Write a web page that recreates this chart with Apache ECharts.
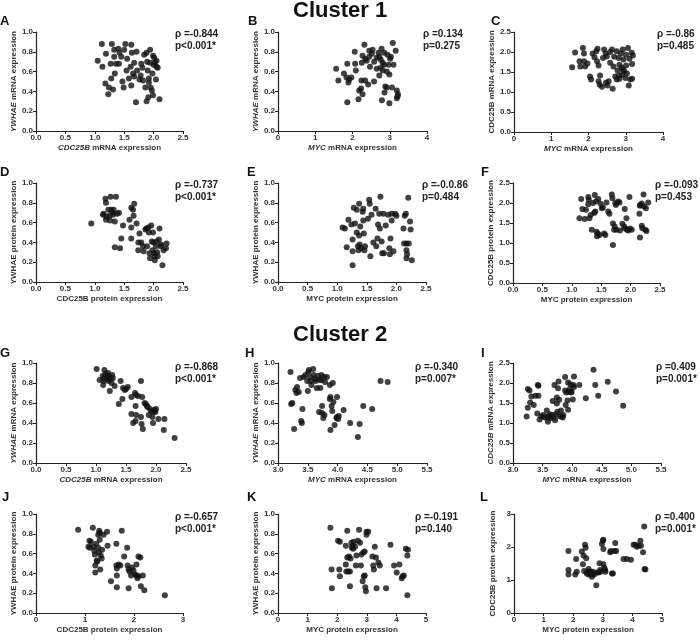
<!DOCTYPE html>
<html><head><meta charset="utf-8">
<script src="https://cdn.jsdelivr.net/npm/echarts@6/dist/echarts.min.js"></script>
<style>html,body{margin:0;padding:0;background:#fff}#c{width:700px;height:640px}</style>
</head><body><div id="c"></div>
<script>
// ---- data ----
var aX=[1.05,1.12,1.13,1.19,1.18,1.24,1.23,1.29,1.27,1.33,1.33,1.28,1.31,1.34,1.40,1.41,1.42,1.45,1.47,1.49,1.52,1.50,1.54,1.55,1.61,1.62,1.63,1.62,1.65,1.67,1.70,1.67,1.71,1.72,1.78,1.79,1.82,1.86,1.84,1.88,1.89,1.88,1.91,1.92,1.94,1.94,1.95,1.97,1.98,1.99,2.01,2.02,2.04,2.05,2.07,2.10,1.81,1.76,1.90,2.05,1.99,1.58,1.36,1.92,2.00];
var aY=[0.71,0.88,0.65,0.78,0.48,0.44,0.37,0.88,0.68,0.82,0.75,0.53,0.42,0.58,0.83,0.68,0.79,0.75,0.50,0.44,0.88,0.82,0.61,0.73,0.65,0.87,0.79,0.46,0.58,0.69,0.29,0.55,0.80,0.61,0.56,0.68,0.51,0.44,0.77,0.79,0.70,0.30,0.34,0.53,0.82,0.69,0.44,0.41,0.58,0.76,0.74,0.69,0.52,0.71,0.64,0.32,0.64,0.52,0.61,0.65,0.36,0.53,0.68,0.49,0.67];
var bX=[1.56,1.62,1.77,1.84,1.86,1.86,1.89,1.91,1.97,2.06,2.07,2.09,2.16,2.18,2.23,2.24,2.27,2.25,2.27,2.32,2.34,2.38,2.42,2.45,2.47,2.52,2.54,2.58,2.58,2.65,2.65,2.70,2.72,2.76,2.76,2.78,2.79,2.81,2.81,2.85,2.86,2.88,2.92,2.94,2.97,2.99,2.99,3.03,3.06,3.08,3.10,3.16,3.19,3.21,3.22,3.19,3.01,2.72,2.85,2.92,2.34,2.45];
var bY=[0.63,0.51,0.58,0.54,0.68,0.29,0.49,0.52,0.54,0.80,0.68,0.61,0.32,0.41,0.43,0.51,0.37,0.69,0.76,0.87,0.73,0.71,0.47,0.75,0.65,0.78,0.82,0.50,0.70,0.74,0.63,0.79,0.56,0.72,0.64,0.83,0.31,0.69,0.61,0.79,0.39,0.45,0.44,0.77,0.67,0.28,0.57,0.75,0.44,0.89,0.67,0.81,0.41,0.35,0.37,0.33,0.73,0.75,0.67,0.60,0.51,0.81];
var cX=[1.56,1.64,1.76,1.78,1.85,1.88,1.88,1.91,1.97,2.04,2.07,2.11,2.16,2.21,2.23,2.24,2.27,2.27,2.30,2.31,2.36,2.39,2.42,2.46,2.47,2.51,2.54,2.58,2.58,2.63,2.65,2.67,2.69,2.72,2.76,2.78,2.81,2.83,2.83,2.87,2.89,2.91,2.92,2.94,2.96,2.99,3.01,3.01,3.03,3.06,3.08,3.10,3.12,3.16,3.17,3.19,3.17,2.49,2.76,2.92,2.82];
var cY=[1.62,1.99,1.77,1.64,2.10,1.96,1.77,1.64,1.71,1.39,1.31,1.96,1.87,2.02,1.77,2.08,1.66,1.27,1.18,1.41,1.13,1.85,2.06,1.96,1.23,1.16,1.27,2.00,1.73,2.06,1.08,1.64,1.88,1.39,2.02,1.54,1.85,1.68,1.33,1.96,1.61,1.43,2.06,1.81,1.52,1.35,1.93,1.66,1.46,2.10,1.16,1.83,1.31,1.98,1.33,1.91,1.70,1.89,1.31,1.56,1.41];
var dX=[0.94,1.18,1.19,1.14,1.15,1.19,1.20,1.23,1.25,1.26,1.27,1.28,1.30,1.31,1.32,1.34,1.36,1.34,1.38,1.41,1.43,1.45,1.48,1.59,1.62,1.65,1.62,1.62,1.67,1.66,1.71,1.74,1.74,1.76,1.79,1.82,1.83,1.86,1.88,1.89,1.91,1.92,1.93,1.94,1.96,1.97,1.98,1.99,2.00,2.01,2.02,2.04,2.05,2.06,2.09,2.10,2.12,2.13,2.15,2.17,2.21,2.22,2.07,2.02];
var dY=[0.59,0.84,0.80,0.68,0.69,0.63,0.66,0.73,0.67,0.62,0.86,0.73,0.70,0.68,0.73,0.61,0.86,0.35,0.69,0.70,0.34,0.44,0.57,0.63,0.75,0.73,0.44,0.55,0.79,0.67,0.59,0.40,0.32,0.49,0.40,0.36,0.31,0.53,0.54,0.36,0.55,0.50,0.29,0.24,0.57,0.41,0.32,0.50,0.40,0.29,0.22,0.36,0.41,0.30,0.43,0.54,0.36,0.38,0.17,0.32,0.34,0.39,0.26,0.26];
var eX=[1.09,1.13,1.16,1.19,1.24,1.26,1.26,1.26,1.28,1.30,1.33,1.33,1.36,1.35,1.37,1.37,1.38,1.39,1.41,1.43,1.44,1.44,1.45,1.46,1.47,1.52,1.54,1.55,1.56,1.58,1.61,1.65,1.66,1.68,1.69,1.71,1.72,1.73,1.75,1.76,1.78,1.79,1.82,1.86,1.88,1.89,1.90,1.92,1.92,1.95,1.98,2.00,2.12,2.13,2.14,2.16,2.17,2.17,2.18,2.17,2.20,2.23,2.24,2.26,2.21];
var eY=[0.55,0.54,0.35,0.63,0.58,0.43,0.31,0.17,0.75,0.59,0.50,0.73,0.32,0.36,0.79,0.47,0.38,0.56,0.34,0.71,0.74,0.62,0.49,0.32,0.36,0.64,0.83,0.79,0.26,0.68,0.40,0.74,0.36,0.44,0.58,0.69,0.54,0.86,0.41,0.29,0.69,0.29,0.57,0.68,0.34,0.28,0.44,0.69,0.62,0.31,0.69,0.67,0.54,0.39,0.67,0.69,0.39,0.32,0.28,0.24,0.85,0.61,0.53,0.22,0.39];
var fX=[1.13,1.16,1.18,1.22,1.24,1.28,1.28,1.29,1.30,1.32,1.34,1.36,1.38,1.39,1.40,1.41,1.42,1.43,1.44,1.45,1.47,1.49,1.51,1.53,1.55,1.57,1.59,1.62,1.64,1.68,1.69,1.70,1.70,1.72,1.73,1.74,1.75,1.76,1.79,1.81,1.82,1.86,1.89,1.90,1.91,1.93,1.94,1.96,1.98,1.99,2.02,2.15,2.16,2.16,2.19,2.19,2.20,2.22,2.23,2.25,2.26,2.27,2.30,2.16];
var fY=[1.62,2.10,1.85,1.60,1.83,1.97,2.15,2.08,1.62,1.70,1.33,2.00,1.75,2.20,1.79,2.04,1.28,1.17,1.24,2.10,1.20,1.98,1.87,1.89,1.24,1.20,2.01,1.79,1.73,2.21,2.12,0.95,1.49,1.33,1.41,2.00,1.95,1.33,2.04,2.01,1.31,1.48,1.41,1.85,1.36,1.62,1.33,1.31,2.15,1.36,1.33,1.73,1.95,1.14,1.99,1.43,1.37,2.21,1.91,1.33,1.87,1.30,2.01,1.93];
var gX=[1.01,1.06,1.11,1.12,1.14,1.16,1.17,1.18,1.20,1.21,1.22,1.23,1.24,1.26,1.27,1.28,1.31,1.14,1.38,1.41,1.44,1.45,1.48,1.50,1.53,1.59,1.59,1.62,1.65,1.66,1.66,1.67,1.67,1.70,1.75,1.77,1.75,1.76,1.78,1.81,1.83,1.85,1.86,1.88,1.90,1.92,1.94,1.95,1.96,1.97,2.00,2.04,2.14,2.13,2.31,1.99,1.13];
var gY=[0.94,0.83,0.87,0.78,0.93,0.89,0.87,0.84,0.90,0.82,0.86,0.72,0.84,0.80,0.88,0.85,0.77,0.85,0.59,0.82,0.64,0.75,0.73,0.74,0.76,0.66,0.49,0.40,0.70,0.57,0.42,0.68,0.48,0.67,0.82,0.66,0.46,0.39,0.34,0.60,0.59,0.57,0.56,0.48,0.54,0.52,0.46,0.40,0.51,0.53,0.54,0.44,0.44,0.33,0.25,0.51,0.82];
var hX=[3.21,3.22,3.24,3.27,3.29,3.31,3.32,3.35,3.37,3.39,3.40,3.41,3.43,3.46,3.49,3.51,3.50,3.52,3.54,3.55,3.56,3.59,3.60,3.62,3.63,3.65,3.67,3.69,3.70,3.71,3.73,3.73,3.74,3.74,3.76,3.77,3.78,3.79,3.82,3.87,3.87,3.88,3.88,3.90,3.91,3.92,3.93,3.95,3.98,3.99,3.99,4.01,4.02,4.10,4.21,4.34,4.37,4.43,4.58,4.72,4.84];
var hY=[0.91,0.59,0.60,0.34,0.73,0.70,0.76,0.71,0.85,0.42,0.40,0.54,0.86,0.88,0.82,0.91,0.72,0.93,0.86,0.82,0.78,0.94,0.88,0.84,0.82,0.75,0.87,0.51,0.83,0.75,0.88,0.83,0.57,0.50,0.45,0.86,0.48,0.81,0.86,0.78,0.64,0.66,0.33,0.57,0.52,0.80,0.61,0.38,0.45,0.66,0.46,0.44,0.47,0.53,0.40,0.26,0.39,0.57,0.54,0.82,0.81];
var iX=[3.23,3.25,3.25,3.28,3.29,3.31,3.35,3.38,3.41,3.42,3.43,3.43,3.45,3.48,3.51,3.54,3.57,3.58,3.59,3.60,3.62,3.63,3.66,3.67,3.69,3.70,3.71,3.72,3.74,3.74,3.75,3.76,3.77,3.78,3.79,3.81,3.82,3.84,3.85,3.88,3.88,3.89,3.90,3.92,3.93,3.93,3.94,3.96,3.97,3.98,3.99,4.01,4.02,4.03,4.03,4.12,4.23,4.36,4.39,4.44,4.60,4.74,4.86];
var iY=[1.16,1.38,1.85,1.81,1.51,1.66,1.45,1.68,1.24,1.95,1.93,1.68,1.09,1.16,1.20,1.14,1.31,1.14,1.03,1.16,1.22,1.12,1.20,1.55,1.14,1.95,1.07,1.22,1.64,1.49,1.28,1.87,2.04,1.58,1.17,1.31,1.16,1.14,1.20,2.15,1.81,1.45,1.76,1.56,2.01,1.33,1.78,1.85,1.97,1.76,1.78,1.59,1.95,1.90,2.16,1.95,1.62,2.33,1.95,1.68,2.03,1.79,1.43];
var jX=[0.86,1.09,1.10,1.12,1.16,1.17,1.19,1.20,1.21,1.21,1.23,1.24,1.25,1.27,1.27,1.28,1.29,1.30,1.31,1.32,1.34,1.35,1.38,1.45,1.46,1.53,1.64,1.64,1.65,1.65,1.65,1.69,1.72,1.75,1.80,1.86,1.87,1.89,1.89,1.91,1.94,1.96,1.99,2.02,2.05,2.06,2.07,2.09,2.09,2.13,2.14,2.18,2.21,2.63,1.07,1.30];
var jY=[0.84,0.73,0.66,0.72,0.86,0.67,0.63,0.59,0.48,0.41,0.70,0.53,0.52,0.79,0.66,0.61,0.83,0.81,0.44,0.58,0.55,0.64,0.79,0.82,0.68,0.32,0.70,0.48,0.45,0.38,0.26,0.49,0.48,0.83,0.57,0.66,0.48,0.44,0.25,0.42,0.38,0.46,0.43,0.39,0.49,0.38,0.35,0.57,0.37,0.56,0.27,0.38,0.23,0.18,0.67,0.74];
var kX=[1.77,1.81,1.82,2.03,2.09,2.07,2.09,2.29,2.29,2.31,2.34,2.34,2.37,2.40,2.43,2.43,2.45,2.48,2.49,2.52,2.54,2.56,2.60,2.63,2.65,2.70,2.74,2.77,2.80,2.82,2.86,2.88,2.90,2.93,2.93,2.95,2.97,2.99,2.99,3.05,3.19,3.22,3.24,3.27,3.31,3.33,3.39,3.44,3.65,3.80,3.92,4.01,4.10,4.18,4.21,4.25,4.32,4.37,4.37,4.39];
var kY=[0.86,0.44,0.25,0.73,0.72,0.44,0.37,0.68,0.49,0.42,0.83,0.56,0.42,0.57,0.42,0.27,0.55,0.71,0.66,0.68,0.65,0.72,0.67,0.48,0.58,0.73,0.84,0.71,0.48,0.59,0.32,0.61,0.37,0.38,0.62,0.26,0.22,0.79,0.82,0.82,0.57,0.48,0.44,0.67,0.56,0.25,0.51,0.48,0.25,0.69,0.48,0.41,0.49,0.35,0.37,0.38,0.65,0.58,0.18,0.64];
var lX=[1.84,1.84,1.84,2.07,2.10,2.12,2.29,2.33,2.35,2.37,2.40,2.42,2.44,2.46,2.48,2.52,2.55,2.60,2.63,2.66,2.71,2.78,2.80,2.86,2.89,2.91,2.93,2.97,3.00,3.02,3.02,3.05,3.08,3.09,3.02,3.25,3.27,3.31,3.34,3.39,3.42,3.45,3.70,3.81,3.95,4.04,4.10,4.15,4.21,4.27,4.29,4.36,4.40,4.41,4.44,2.52,2.60,2.66];
var lY=[1.88,1.30,1.17,1.17,1.64,1.25,1.86,1.48,1.74,1.27,2.07,1.98,1.66,1.20,1.25,1.17,1.25,1.17,1.10,1.19,1.17,0.84,1.23,1.23,1.51,1.30,1.25,2.09,2.19,2.22,1.48,1.37,1.30,1.25,1.94,1.84,1.88,1.20,1.20,1.88,2.12,1.88,1.64,1.64,1.61,2.07,2.07,2.01,2.04,2.19,2.04,1.84,2.62,1.33,1.32,1.33,1.25,1.25];

var letters=['A','B','C','D','E','F','G','H','I','J','K','L'];
var rhoText=['ρ =-0.844','ρ =0.134','ρ =-0.86','ρ =-0.737','ρ =-0.0.86','ρ =-0.093','ρ =-0.868','ρ =-0.340','ρ =0.409','ρ =-0.657','ρ =-0.191','ρ =0.400'];
var pText=['p<0.001*','p=0.275','p=0.485','p<0.001*','p=0.484','p=0.453','p<0.001*','p=0.007*','p=0.001*','p<0.001*','p=0.140','p=0.001*'];
var xNames=['{i|CDC25B} mRNA expression','{i|MYC} mRNA expression','{i|MYC} mRNA expression','CDC25B protein expression','MYC protein expression','MYC protein expression','{i|CDC25B} mRNA expression','{i|MYC} mRNA expression','{i|MYC} mRNA expression','CDC25B protein expression','MYC protein expression','MYC protein expression'];
var yNames=['{i|YWHAE} mRNA expression','{i|YWHAE} mRNA expression','CDC25B mRNA expression','YWHAE protein expression','YWHAE protein expression','CDC25B protein expression','{i|YWHAE} mRNA expression','{i|YWHAE} mRNA expression','{i|CDC25B} mRNA expression','YWHAE protein expression','YWHAE protein expression','CDC25B protein expression'];
var xRanges=[[0,2.5,0.5],[0,4,1],[0,4,1],[0,2.5,0.5],[0,2.5,0.5],[0,2.5,0.5],[0,2.5,0.5],[3,5.5,0.5],[3,5.5,0.5],[0,3,1],[0,5,1],[0,5,1]];
var yRanges=[[0,1,0.2],[0,1,0.2],[0,2.5,0.5],[0,1,0.2],[0,1,0.2],[0,2.5,0.5],[0,1,0.2],[0,1,0.2],[0,2.5,0.5],[0,1,0.2],[0,1,0.2],[0,3,1]];
var xs=[aX,bX,cX,dX,eX,fX,gX,hX,iX,jX,kX,lX];
var ys=[aY,bY,cY,dY,eY,fY,gY,hY,iY,jY,kY,lY];

// ---- layout ----
var grids=[
 {left:36,top:32,width:147,height:99},{left:278,top:32,width:149,height:99},{left:514,top:32,width:149,height:100},
 {left:36,top:183,width:147,height:99},{left:278,top:183,width:148,height:99},{left:513,top:183,width:147,height:100},
 {left:36,top:363,width:150,height:100},{left:278,top:363,width:149,height:100},{left:513,top:363,width:148,height:100},
 {left:36,top:514,width:147,height:99},{left:278,top:514,width:148,height:99},{left:514,top:514,width:148,height:99}];
var letterPos=[[0,15],[248,15],[491,15],[0,166],[247,166],[481,166],[0,347],[245,347],[481,347],[2,491],[247,491],[480,491]];
var annPos=[[175,28],[423,28],[657,28],[175,179],[422,179],[655,179],[175,361],[415,361],[656,361],[175,511],[415,511],[655,511]];

var FONT='"Liberation Sans", Arial, sans-serif';
var axisCol='#222';
function fmt(step){return function(v){return step<1? v.toFixed(1): String(Math.round(v));};}
var xAxes=[],yAxes=[],series=[],graphic=[];
for(var k=0;k<12;k++){
  var xr=xRanges[k], yr=yRanges[k];
  var common={
    type:'value', gridIndex:k, splitLine:{show:false},
    axisLine:{show:true,onZero:false,lineStyle:{color:axisCol,width:1.2}},
    axisTick:{show:true,length:3,lineStyle:{color:axisCol,width:1}},
    axisLabel:{fontFamily:FONT,fontSize:8,fontWeight:'bold',color:'#333',margin:3},
    nameLocation:'middle'
  };
  var xa=JSON.parse(JSON.stringify(common));
  xa.min=xr[0];xa.max=xr[1];xa.interval=xr[2];xa.axisLabel.formatter=fmt(xr[2]);
  xa.name=xNames[k];xa.nameGap=13;
  xa.nameTextStyle={fontFamily:FONT,fontSize:8,fontWeight:'bold',color:'#333',rich:{i:{fontFamily:FONT,fontSize:8,fontWeight:'bold',fontStyle:'italic',color:'#333'}}};
  xAxes.push(xa);
  var ya=JSON.parse(JSON.stringify(common));
  ya.min=yr[0];ya.max=yr[1];ya.interval=yr[2];ya.axisLabel.formatter=fmt(yr[2]);
  ya.name=yNames[k];ya.nameGap=17;
  ya.nameTextStyle={fontFamily:FONT,fontSize:8,fontWeight:'bold',color:'#333',rich:{i:{fontFamily:FONT,fontSize:8,fontWeight:'bold',fontStyle:'italic',color:'#333'}}};
  yAxes.push(ya);
  var pts=[];
  for(var n=0;n<Math.min(xs[k].length,ys[k].length);n++) pts.push([xs[k][n],ys[k][n]]);
  series.push({type:'scatter',xAxisIndex:k,yAxisIndex:k,data:pts,symbol:'circle',symbolSize:6,itemStyle:{color:'#111'},silent:true,animation:false});
  graphic.push({type:'text',left:letterPos[k][0],top:letterPos[k][1],style:{text:letters[k],font:'bold 13px '+FONT,fill:'#111'}});
  graphic.push({type:'text',left:annPos[k][0],top:annPos[k][1],style:{text:rhoText[k]+'\n'+pText[k],font:'bold 10px '+FONT,fill:'#222',lineHeight:12}});
}
graphic.push({type:'text',left:293,top:0,style:{text:'Cluster 1',font:'bold 22px '+FONT,fill:'#111'}});
graphic.push({type:'text',left:293,top:324,style:{text:'Cluster 2',font:'bold 22px '+FONT,fill:'#111'}});

var chart=echarts.init(document.getElementById('c'),null,{renderer:'canvas'});
chart.setOption({animation:false,backgroundColor:'#fff',grid:grids,xAxis:xAxes,yAxis:yAxes,series:series,graphic:graphic});
</script></body></html>
